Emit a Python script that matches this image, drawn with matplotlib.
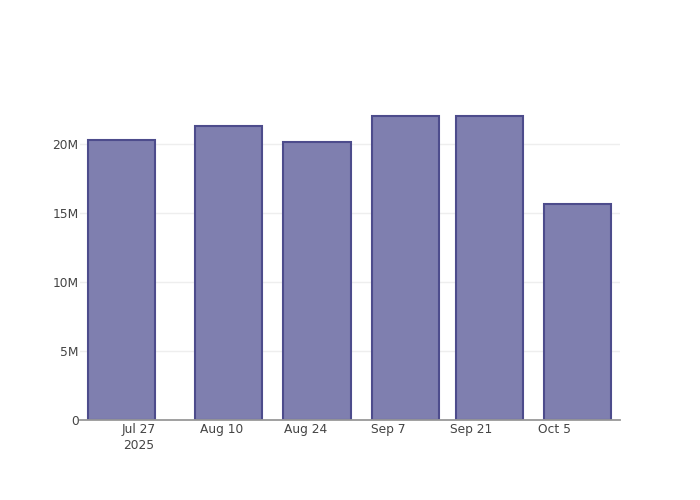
import numpy as np
import pandas as pd
import matplotlib
matplotlib.use("Agg")
import matplotlib.pyplot as plt
import matplotlib.dates as mdates

dates = pd.to_datetime(["2025-07-24", "2025-08-11", "2025-08-26",
                        "2025-09-10", "2025-09-24", "2025-10-09"])
values = [20.25e6, 21.30e6, 20.13e6, 22.03e6, 21.98e6, 15.61e6]

tick_dates = pd.to_datetime(["2025-07-27", "2025-08-10", "2025-08-24",
                             "2025-09-07", "2025-09-21", "2025-10-05"])
tick_labels = ["Jul 27\n2025", "Aug 10", "Aug 24", "Sep 7", "Sep 21", "Oct 5"]

y_ticks = [0, 5e6, 10e6, 15e6, 20e6]
y_labels = ["0", "5M", "10M", "15M", "20M"]

fig = plt.figure(figsize=(7, 5), dpi=100)
ax = fig.add_axes([80 / 700, 80 / 500, 540 / 700, 320 / 500])

x = mdates.date2num(dates)
ax.bar(x, values, width=11.3, color="#7f7faf", edgecolor="#4d4c8c",
       linewidth=1.5, zorder=3)

ax.set_xlim(mdates.date2num(pd.Timestamp("2025-07-17 01:00")),
            mdates.date2num(pd.Timestamp("2025-10-16 02:00")))
ax.set_ylim(0, 23.16e6)

ax.set_xticks(mdates.date2num(tick_dates))
ax.set_xticklabels(tick_labels, fontsize=8.8, color="#444444", linespacing=1.3)
ax.set_yticks(y_ticks)
ax.set_yticklabels(y_labels, fontsize=8.8, color="#444444")
ax.tick_params(axis="x", length=0, pad=2)
ax.tick_params(axis="y", length=0, pad=1)

ax.grid(axis="y", color="#eeeeee", linewidth=1, zorder=0)
for s in ["top", "right", "left"]:
    ax.spines[s].set_visible(False)
ax.spines["bottom"].set_color("#999999")
ax.spines["bottom"].set_linewidth(1.3)
ax.spines["bottom"].set_zorder(4)

fig.savefig("out.png", dpi=100)
